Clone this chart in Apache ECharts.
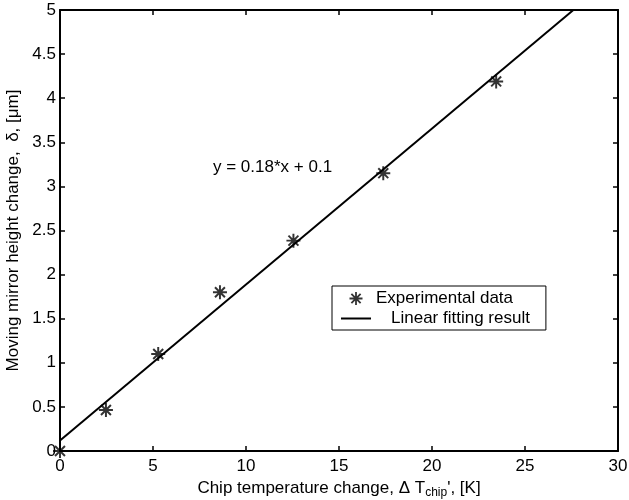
<!DOCTYPE html>
<html>
<head>
<meta charset="utf-8">
<script src="https://cdn.jsdelivr.net/npm/echarts@6/dist/echarts.min.js"></script>
<style>
  html, body { margin: 0; padding: 0; background: #fff; }
  #main { width: 629px; height: 500px; }
</style>
</head>
<body>
<div id="main"></div>
<script>
  // measured points
  const tempChange = [0, 2.47, 5.28, 8.6, 12.55, 17.38, 23.45];
  const mirrorHeight = [0, 0.465, 1.1, 1.8, 2.385, 3.15, 4.19];
  // fitted line end points (y = 0.18*x + 0.1)
  const fitX = [0, 27.6];
  const fitY = [0.12, 5];
  const xTicks = [0, 5, 10, 15, 20, 25, 30];
  const yTicks = [0, 0.5, 1, 1.5, 2, 2.5, 3, 3.5, 4, 4.5, 5];

  const font = 'Liberation Sans, Arial, Helvetica, sans-serif';
  const fs = 17;
  const star = 'path://M8.6 0L11.4 0L11.4 20L8.6 20Z M0 8.6L20 8.6L20 11.4L0 11.4Z M1.9 3.9L3.9 1.9L18.1 16.1L16.1 18.1Z M16.1 1.9L18.1 3.9L3.9 18.1L1.9 16.1Z';
  const lineIcon = 'path://M0 0L30 0L30 2L0 2Z';

  const chart = echarts.init(document.getElementById('main'));

  const axisCommon = {
    type: 'value',
    axisLine: { show: true, onZero: false, lineStyle: { color: '#000', width: 2 } },
    axisTick: { show: true, inside: true, length: 5, lineStyle: { color: '#000', width: 1.5 } },
    splitLine: { show: false }
  };

  const option = {
    animation: false,
    backgroundColor: '#fff',
    textStyle: { fontFamily: font },
    grid: { left: 60, right: 11, top: 10, bottom: 49, containLabel: false, outerBoundsMode: 'none' },
    xAxis: [
      Object.assign({}, axisCommon, {
        min: xTicks[0], max: xTicks[xTicks.length - 1], interval: 5,
        position: 'bottom',
        axisLabel: { color: '#000', fontSize: fs, fontFamily: font, margin: 7 },
        name: '{a|Chip temperature change, Δ T}{s|chip}{a|\', [K]}',
        nameLocation: 'middle',
        nameGap: 23,
        nameTextStyle: {
          rich: {
            a: { fontSize: fs, fontFamily: font, color: '#000' },
            s: { fontSize: 12, fontFamily: font, color: '#000', padding: [9, 0, 0, 0] }
          }
        }
      }),
      Object.assign({}, axisCommon, {
        min: xTicks[0], max: xTicks[xTicks.length - 1], interval: 5,
        position: 'top',
        axisLabel: { show: false }
      })
    ],
    yAxis: [
      Object.assign({}, axisCommon, {
        min: yTicks[0], max: yTicks[yTicks.length - 1], interval: 0.5,
        position: 'left',
        axisLabel: { color: '#000', fontSize: fs, fontFamily: font, margin: 4 },
        name: 'Moving mirror height change,  δ, [μm]',
        nameLocation: 'middle',
        nameGap: 36,
        nameTextStyle: { color: '#000', fontSize: fs, fontFamily: font }
      }),
      Object.assign({}, axisCommon, {
        min: yTicks[0], max: yTicks[yTicks.length - 1], interval: 0.5,
        position: 'right',
        axisLabel: { show: false }
      })
    ],
    legend: {
      orient: 'vertical',
      left: 332,
      top: 286,
      width: 214,
      itemWidth: 30,
      itemHeight: 13,
      itemGap: 3,
      padding: [4, 16, 3, 9],
      borderColor: '#000',
      borderWidth: 1,
      backgroundColor: '#fff',
      textStyle: { fontSize: fs, fontFamily: font, color: '#000' },
      data: [
        { name: 'Experimental data', icon: star, itemStyle: { color: '#000' } },
        { name: 'Linear fitting result', icon: lineIcon, itemStyle: { color: '#000' }, textStyle: { padding: [0, 0, 0, 15] } }
      ]
    },
    series: [
      {
        name: 'Linear fitting result',
        type: 'line',
        data: fitX.map((x, i) => [x, fitY[i]]),
        showSymbol: false,
        symbol: 'none',
        lineStyle: { color: '#000', width: 2 },
        itemStyle: { color: '#000' },
        clip: true,
        z: 2
      },
      {
        name: 'Experimental data',
        type: 'scatter',
        data: tempChange.map((x, i) => [x, mirrorHeight[i]]),
        symbol: star,
        symbolSize: 14,
        itemStyle: { color: '#000' },
        clip: false,
        z: 3
      }
    ],
    graphic: [
      {
        type: 'text',
        left: 213,
        top: 159,
        style: { text: 'y = 0.18*x + 0.1', fontSize: fs, fontFamily: font, fill: '#000' }
      }
    ]
  };

  chart.setOption(option);
</script>
</body>
</html>
